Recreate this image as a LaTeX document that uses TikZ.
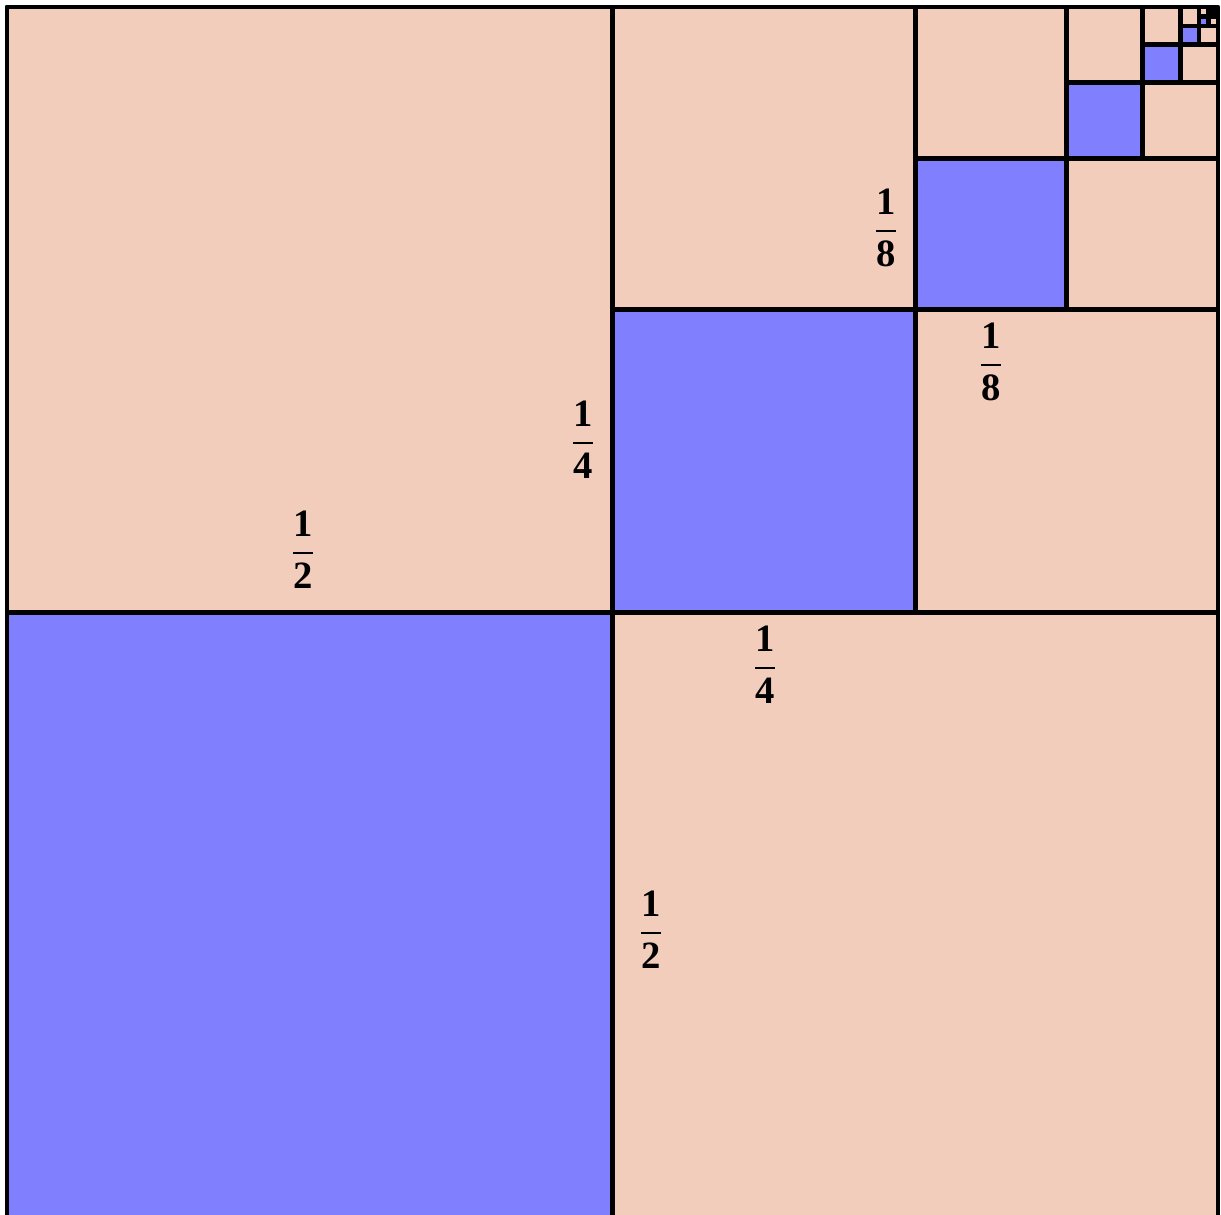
\documentclass[tikz,border=0pt]{standalone}
\usepackage{fontspec}
\setmainfont{Liberation Serif}
\usetikzlibrary{positioning}
\definecolor{peach}{HTML}{F2CDBC}
\definecolor{bluefill}{HTML}{8080FF}

\newcommand\boldfrac[2]{\(\displaystyle{\hbox{\bfseries #1}\above 0.6pt\hbox{\bfseries #2}}\)}

\begin{document}
\begin{tikzpicture}[
    cell/.style={
        draw=black,
        line width=1.35pt,
        line join=round,
    },
    frac/.style={
        font=\fontsize{11}{13}\selectfont,
        inner sep=0pt,
    },
]

\useasboundingbox (0,0) rectangle (12.21,12.14);

% Whole square, peach
\fill[peach] (0.07,-0.04) rectangle ++(12.11,12.11);

% Halving the top right corner again and again
\begin{scope}[shift={(0.07,-0.04)}, x=12.11cm, y=12.11cm]
    \foreach \n in {1,...,9} {
        \pgfmathsetmacro\side{1/2^\n}
        \pgfmathsetmacro\off{1-2*\side}
        \draw[cell, fill=bluefill] (\off,\off) rectangle ++(\side,\side);
        \draw[cell, fill=peach] (\off,\off+\side) rectangle ++(\side,\side);
        \draw[cell, fill=peach] (\off+\side,\off) rectangle ++(\side,\side);
    }
    \draw[cell] (0,0) rectangle (1,1);
\end{scope}

% Side lengths
\node[frac] (halftop) at (3.03,6.64) {\boldfrac{1}{2}};
\node[frac] (halfright) at (6.51,2.84) {\boldfrac{1}{2}};
\node[frac] (quarterleft) at (5.83,7.74) {\boldfrac{1}{4}};
\node[frac] (quarterbelow) at (7.65,5.49) {\boldfrac{1}{4}};
\node[frac] (eighthleft) at (8.86,9.86) {\boldfrac{1}{8}};
\node[frac] (eighthbelow) at (9.91,8.52) {\boldfrac{1}{8}};

\end{tikzpicture}
\end{document}
